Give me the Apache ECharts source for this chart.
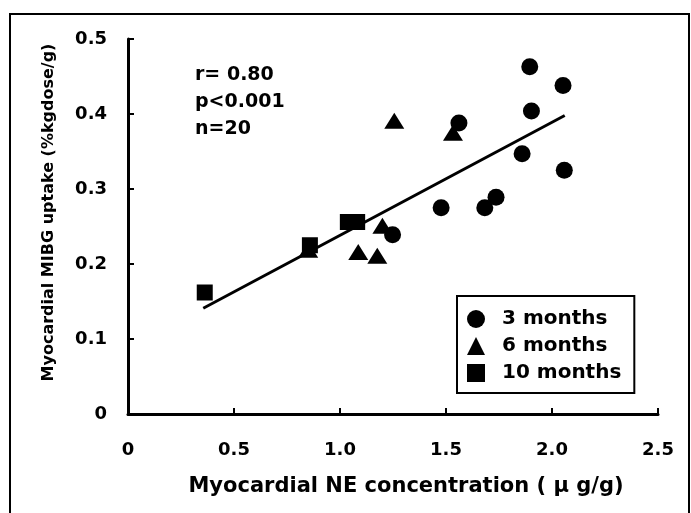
<!DOCTYPE html>
<html>
<head>
<meta charset="utf-8">
<script src="https://cdn.jsdelivr.net/npm/echarts@6/dist/echarts.min.js"></script>
<style>
html,body{margin:0;padding:0;background:#fff;}
#main{width:691px;height:513px;}
</style>
</head>
<body>
<div id="main"></div>
<script>
// ---- data ----
var seriesNames = ['3 months', '6 months', '10 months'];
var months3 = [[1.895,0.463],[2.052,0.438],[1.903,0.404],[1.561,0.388],[1.859,0.347],[2.058,0.325],[1.736,0.289],[1.683,0.275],[1.477,0.275],[1.248,0.239]];
var months6 = [[1.256,0.391],[1.533,0.375],[1.200,0.251],[1.086,0.216],[1.176,0.211],[0.850,0.219]];
var months10 = [[0.362,0.162],[0.858,0.225],[1.037,0.256],[1.081,0.256]];
var regressionLine = [[0.355,0.141],[2.060,0.398]];
var xTickLabels = ['0','0.5','1.0','1.5','2.0','2.5'];
var yTickLabels = ['0','0.1','0.2','0.3','0.4','0.5'];
var statsText = ['r= 0.80','p<0.001','n=20'];
var xTitle = 'Myocardial NE concentration ( \u03bc g/g)';
var yTitle = 'Myocardial MIBG uptake (%kgdose/g)';

var FONT = '"DejaVu Sans", sans-serif';
var chart = echarts.init(document.getElementById('main'), null, {renderer:'canvas'});
var axisCommon = {
  axisLine:{show:true, onZero:false, lineStyle:{color:'#000', width:3}},
  axisTick:{show:true, inside:true, length:6, lineStyle:{color:'#000', width:2}},
  splitLine:{show:false}
};
var solid = {color:'#000', opacity:1};
chart.setOption({
  animation:false,
  backgroundColor:'#fff',
  grid:{left:128, right:33, top:39, bottom:99, containLabel:false},
  xAxis:Object.assign({
    type:'value', min:0, max:2.5, interval:0.5,
    name:xTitle, nameLocation:'middle', nameGap:62,
    nameTextStyle:{fontFamily:FONT, fontWeight:'bold', fontSize:21, color:'#000', padding:[0,0,0,26]},
    axisLabel:{margin:27, fontFamily:FONT, fontWeight:'bold', fontSize:18, color:'#000',
      formatter:function(v){ return xTickLabels[Math.round(v/0.5)]; }}
  }, axisCommon),
  yAxis:Object.assign({
    type:'value', min:0, max:0.5, interval:0.1,
    name:yTitle, nameLocation:'middle', nameGap:71,
    nameTextStyle:{fontFamily:FONT, fontWeight:'bold', fontSize:16, color:'#000', padding:[0,0,0,28]},
    axisLabel:{margin:21, fontFamily:FONT, fontWeight:'bold', fontSize:18, color:'#000',
      formatter:function(v){ return yTickLabels[Math.round(v/0.1)]; }}
  }, axisCommon),
  legend:{
    data:seriesNames, orient:'vertical', left:457, top:296,
    itemWidth:18, itemHeight:18, itemGap:7,
    padding:[13,13,10,10],
    backgroundColor:'#fff', borderColor:'#000', borderWidth:2,
    textStyle:{fontFamily:FONT, fontWeight:'bold', fontSize:20, color:'#000', padding:[0,0,0,12]}
  },
  graphic:[
    {type:'rect', shape:{x:10, y:14, width:679, height:520}, style:{fill:'none', stroke:'#000', lineWidth:2}, silent:true, z:-1},
    {type:'text', left:195, top:62, style:{text:statsText.join('\n'), font:'bold 19px "DejaVu Sans", sans-serif', lineHeight:27, fill:'#000'}}
  ],
  series:[
    {type:'line', data:regressionLine, showSymbol:false, symbol:'none', lineStyle:{color:'#000', width:3}, z:1, silent:true},
    {name:seriesNames[0], type:'scatter', data:months3, symbol:'circle', symbolSize:17, itemStyle:solid, z:3},
    {name:seriesNames[1], type:'scatter', data:months6, symbol:'triangle', symbolSize:[20,16], itemStyle:solid, z:3},
    {name:seriesNames[2], type:'scatter', data:months10, symbol:'rect', symbolSize:16, itemStyle:solid, z:3}
  ]
});
</script>
</body>
</html>
